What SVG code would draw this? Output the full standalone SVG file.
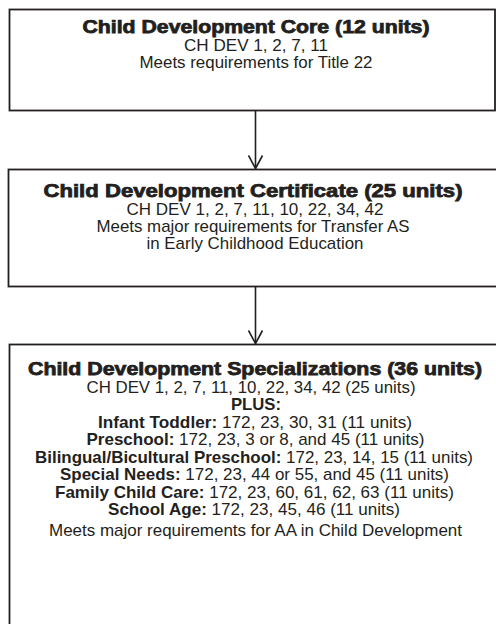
<svg xmlns="http://www.w3.org/2000/svg" width="496" height="624" viewBox="0 0 496 624">
  <defs>
    <style>
      .box { fill: #ffffff; stroke: #231f20; stroke-width: 1.8; }
      .conn { fill: none; stroke: #231f20; stroke-width: 1.6; }
      .title { font-family: "Liberation Sans", Arial, sans-serif; font-weight: 700; font-size: 17.5px; fill: #231f20; stroke: #231f20; stroke-width: 0.75; text-anchor: middle; }
      .body { font-family: "Liberation Sans", Arial, sans-serif; font-size: 17px; fill: #231f20; text-anchor: middle; }
      .b { font-weight: 700; }
    </style>
    <marker id="arrow" viewBox="0 0 16 16" refX="14" refY="8" markerWidth="16" markerHeight="16" markerUnits="userSpaceOnUse" orient="auto">
      <path d="M1,1 L14,8 L1,15" fill="none" stroke="#231f20" stroke-width="1.6"/>
    </marker>
  </defs>
  <rect width="496" height="624" fill="#ffffff"/>

  <g id="connectors">
    <line class="conn" x1="255.5" y1="111" x2="255.5" y2="168.5" marker-end="url(#arrow)"/>
    <line class="conn" x1="255.5" y1="287" x2="255.5" y2="343.5" marker-end="url(#arrow)"/>
  </g>

  <g id="node-core">
    <rect class="box" x="9.5" y="9.5" width="485.5" height="101"/>
    <text class="title" x="256" y="33" textLength="347" lengthAdjust="spacingAndGlyphs">Child Development Core (12 units)</text>
    <text class="body" x="256" y="50.5" textLength="144" lengthAdjust="spacingAndGlyphs">CH DEV 1, 2, 7, 11</text>
    <text class="body" x="256" y="67.5" textLength="233" lengthAdjust="spacingAndGlyphs">Meets requirements for Title 22</text>
  </g>

  <g id="node-certificate">
    <rect class="box" x="8.5" y="169.5" width="492" height="117"/>
    <text class="title" x="253" y="197" textLength="419" lengthAdjust="spacingAndGlyphs">Child Development Certificate (25 units)</text>
    <text class="body" x="255" y="214.5" textLength="257" lengthAdjust="spacingAndGlyphs">CH DEV 1, 2, 7, 11, 10, 22, 34, 42</text>
    <text class="body" x="253" y="231.5" textLength="313" lengthAdjust="spacingAndGlyphs">Meets major requirements for Transfer AS</text>
    <text class="body" x="255" y="248.5" textLength="217" lengthAdjust="spacingAndGlyphs">in Early Childhood Education</text>
  </g>

  <g id="node-specializations">
    <rect class="box" x="9.5" y="344.5" width="492" height="300"/>
    <text class="title" x="255" y="375" textLength="454" lengthAdjust="spacingAndGlyphs">Child Development Specializations (36 units)</text>
    <text class="body" x="251" y="392.5" textLength="329" lengthAdjust="spacingAndGlyphs">CH DEV 1, 2, 7, 11, 10, 22, 34, 42 (25 units)</text>
    <text class="body b" x="256" y="410" textLength="50" lengthAdjust="spacingAndGlyphs">PLUS:</text>
    <text class="body" x="255" y="427.5" textLength="314" lengthAdjust="spacingAndGlyphs"><tspan class="b">Infant Toddler:</tspan> 172, 23, 30, 31 (11 units)</text>
    <text class="body" x="255.5" y="445" textLength="338" lengthAdjust="spacingAndGlyphs"><tspan class="b">Preschool:</tspan> 172, 23, 3 or 8, and 45 (11 units)</text>
    <text class="body" x="254" y="462.5" textLength="438" lengthAdjust="spacingAndGlyphs"><tspan class="b">Bilingual/Bicultural Preschool:</tspan> 172, 23, 14, 15 (11 units)</text>
    <text class="body" x="254.5" y="480" textLength="389" lengthAdjust="spacingAndGlyphs"><tspan class="b">Special Needs:</tspan> 172, 23, 44 or 55, and 45 (11 units)</text>
    <text class="body" x="254.5" y="497.5" textLength="399" lengthAdjust="spacingAndGlyphs"><tspan class="b">Family Child Care:</tspan> 172, 23, 60, 61, 62, 63 (11 units)</text>
    <text class="body" x="254" y="515" textLength="292" lengthAdjust="spacingAndGlyphs"><tspan class="b">School Age:</tspan> 172, 23, 45, 46 (11 units)</text>
    <text class="body" x="255.5" y="536" textLength="413" lengthAdjust="spacingAndGlyphs">Meets major requirements for AA in Child Development</text>
  </g>
</svg>
